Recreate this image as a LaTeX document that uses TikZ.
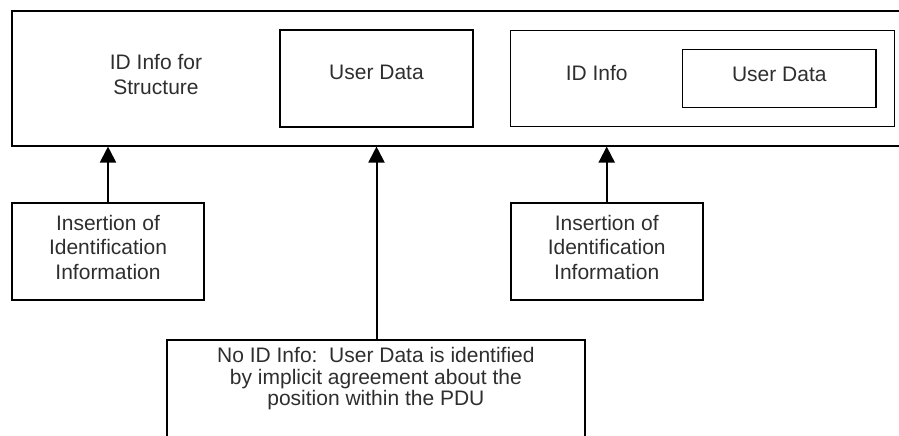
\documentclass[tikz,border=0pt]{standalone}
\usepackage{fontspec}
\setmainfont{Liberation Sans}
\usetikzlibrary{arrows.meta}
\begin{document}
\begin{tikzpicture}[x=1pt,y=-1pt,
  every node/.style={font=\fontsize{21}{24.5}\selectfont, text=black!82},
  pdubox/.style={draw, line width=2pt, inner sep=0pt},
  databox/.style={draw, line width=1.3pt, inner sep=0pt},
  labeltext/.style={align=center, inner sep=0pt},
  insarrow/.style={line width=2pt, -{Triangle[width=16pt,length=16pt]}}]
\useasboundingbox (0,0) rectangle (899,436);
\clip (0,0) rectangle (899,436);

% PDU frame, running past the right edge
\node[pdubox, minimum width=893pt, minimum height=134.5pt] (pdu) at (458.5,78.3) {};
\node[labeltext] (idstruct) at (156,74.5) {ID Info for\\Structure};
\node[databox, minimum width=193pt, minimum height=97pt, text depth=13pt] (ud1) at (376.5,78.5) {User Data};

% nested block: ID info wrapping user data
\node[databox, minimum width=383.6pt, minimum height=96pt] (idbox) at (702.5,78.7) {};
\node[labeltext] (idtext) at (596.7,72.8) {ID Info};
\node[databox, minimum width=193.3pt, minimum height=58pt, text depth=9pt] (ud2) at (779.3,78.3) {User Data};

% explanatory boxes below
\node[pdubox, minimum width=192pt, minimum height=96.7pt, align=center, text depth=9pt] (ins1) at (108,251.7) {Insertion of\\Identification\\Information};
\node[pdubox, minimum width=192pt, minimum height=96.7pt, align=center, text depth=9pt] (ins2) at (606.7,251.7) {Insertion of\\Identification\\Information};
\node[pdubox, minimum width=418.3pt, minimum height=240pt, anchor=north] (note) at (375.9,339.3) {};
\node[labeltext, anchor=north, font=\fontsize{21}{21.5}\selectfont] (notetext) at ([yshift=-8pt]note.north)
  {No ID Info:\ \ User Data is identified\\by implicit agreement about the\\position within the PDU};

% arrows into the PDU
\draw[insarrow] (ins1.north) -- (ins1.north |- pdu.south);
\draw[insarrow] (ud1.south |- note.north) -- (ud1.south |- pdu.south);
\draw[insarrow] (ins2.north) -- (ins2.north |- pdu.south);
\end{tikzpicture}
\end{document}
